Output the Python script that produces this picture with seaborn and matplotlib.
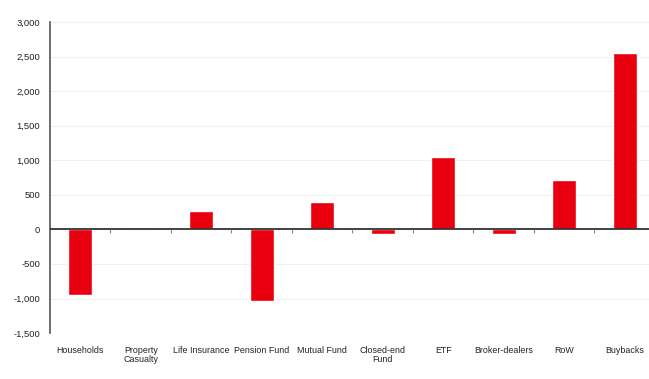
import seaborn as sns
import matplotlib.pyplot as plt
import pandas as pd

# Net equity purchases by sector
sectors = ["Households", "Property\nCasualty", "Life Insurance", "Pension Fund", "Mutual Fund",
           "Closed-end\nFund", "ETF", "Broker-dealers", "RoW", "Buybacks"]
values = [-950, 0, 260, -1040, 390, -70, 1050, -60, 710, 2550]
y_ticks = [-1500, -1000, -500, 0, 500, 1000, 1500, 2000, 2500, 3000]

df = pd.DataFrame({"sector": sectors, "value": values})

sns.set_style("white")
plt.rcParams["font.family"] = ["Liberation Sans", "DejaVu Sans"]

fig = plt.figure(figsize=(6.49, 3.79), dpi=100)
ax = fig.add_axes([0.077, 0.121, 0.932, 0.821])

sns.barplot(data=df, x="sector", y="value", color="#e8000f", width=0.4,
            saturation=1, ax=ax, zorder=3)

ax.set_ylim(-1500, 3000)
ax.set_xlim(-0.5, len(sectors) - 0.5)
ax.set_yticks(y_ticks)
ax.set_yticklabels([f"{t:,}" for t in y_ticks], fontsize=6.8)
ax.tick_params(axis="y", direction="out", length=3, width=0.8, color="#555555", pad=4,
               labelcolor="#222222")
ax.tick_params(axis="x", length=0, labelsize=6.4, pad=9, labelcolor="#222222")
for lbl in ax.get_xticklabels():
    lbl.set_linespacing(1.1)
ax.set_xlabel("")
ax.set_ylabel("")
ax.yaxis.grid(True, color="#f0f0f0", linewidth=0.8, zorder=0)

for s in ["top", "right", "bottom"]:
    ax.spines[s].set_visible(False)
ax.spines["left"].set_color("#555555")
ax.spines["left"].set_linewidth(1.2)

# zero line with category separators
ax.axhline(0, color="#333333", linewidth=1.3, zorder=4)
ax.vlines([i + 0.5 for i in range(len(sectors) - 1)], -50, 0, color="#888888",
          linewidth=0.8, zorder=4)

fig.savefig("out.png", dpi=100)
